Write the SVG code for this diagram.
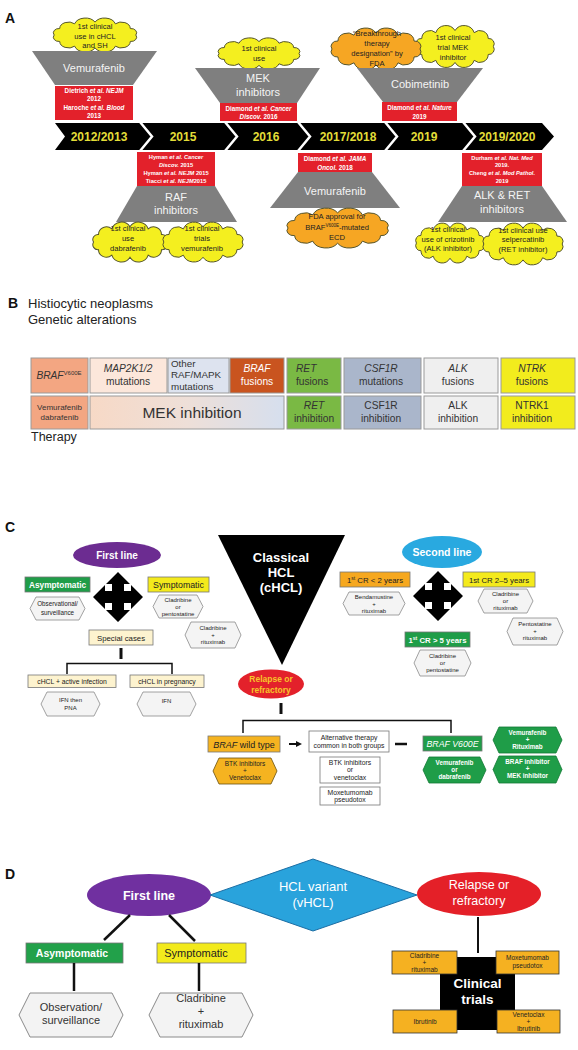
<svg xmlns="http://www.w3.org/2000/svg" xmlns:xlink="http://www.w3.org/1999/xlink" width="578" height="1050" viewBox="0 0 578 1050">
<style>
text{font-family:"Liberation Sans",Arial,Helvetica,sans-serif;}
.lbl{font-weight:bold;font-size:14px;fill:#111}
.yr{font-weight:bold;font-size:12px;fill:#e2dd38;text-anchor:middle}
.trap{fill:#7f7f7f}
.trt{fill:#f4f4f4;font-size:11px;text-anchor:middle}
.red{fill:#e3212b}
.ref{fill:#fff;font-size:6.3px;font-weight:bold;text-anchor:middle}
.ref2{fill:#fff;font-size:5.7px;font-weight:bold;text-anchor:middle}
.i{font-style:italic}
.cy{fill:#f4ef1f;stroke:#55552e;stroke-width:1}
.co{fill:#f6a623;stroke:#55552e;stroke-width:1}
.ct{font-size:7.6px;fill:#222;text-anchor:middle}
.cell{stroke:#9a9a9a;stroke-width:1}
.bt{font-size:10.2px;fill:#333;text-anchor:middle}
.hex{fill:#f4f4f4;stroke:#8a8a8a;stroke-width:0.8}
.ht{font-size:6px;fill:#222;text-anchor:middle}
.bx{stroke:#777;stroke-width:0.8}
.con{stroke:#111;fill:none}
.gh{fill:#1f9d48;stroke:#137a35;stroke-width:0.8}
.gt{fill:#fff;font-size:6.3px;font-weight:bold;text-anchor:middle}
.oh{fill:#f5b320;stroke:#6a5010;stroke-width:0.8}
.dh{fill:#f3f3f3;stroke:#8a8a8a;stroke-width:1}
.dt{font-size:11px;fill:#333;text-anchor:middle}
.ob{fill:#f5b121;stroke:#333;stroke-width:0.8}
.obt{font-size:6.5px;fill:#222;text-anchor:middle}
</style>
<defs>
<symbol id="cloud" viewBox="0 0 100 50" preserveAspectRatio="none" overflow="visible">
<path vector-effect="non-scaling-stroke" d="M90,25 A5.6,5.6 0 0 1 84.6,33.5 A8.7,8.7 0 0 1 70,39.7 A11.1,11.1 0 0 1 50,42 A11.1,11.1 0 0 1 30,39.7 A8.7,8.7 0 0 1 15.4,33.5 A5.6,5.6 0 0 1 10,25 A5.6,5.6 0 0 1 15.4,16.5 A8.7,8.7 0 0 1 30,10.3 A11.1,11.1 0 0 1 50,8 A11.1,11.1 0 0 1 70,10.3 A8.7,8.7 0 0 1 84.6,16.5 A5.6,5.6 0 0 1 90,25Z"/>
</symbol>
<path id="cross" d="M0,-25 L12,-13 L6,-13 L6,-6 L13,-6 L13,-12 L25,0 L13,12 L13,6 L6,6 L6,13 L12,13 L0,25 L-12,13 L-6,13 L-6,6 L-13,6 L-13,12 L-25,0 L-13,-12 L-13,-6 L-6,-6 L-6,-13 L-12,-13 Z" fill="#000"/>
<linearGradient id="mekg" x1="0" y1="0" x2="1" y2="0">
<stop offset="0" stop-color="#f7d9c6"/>
<stop offset="0.5" stop-color="#eedfd8"/>
<stop offset="1" stop-color="#d6dfee"/>
</linearGradient>
</defs>

<!-- ===== Panel A ===== -->
<text class="lbl" x="5" y="23">A</text>

<g id="timeline">
<polygon points="55,123 542,123 554,136.5 542,150 55,150 65,136.5" fill="#000"/>
<polyline points="140,122 152,136.5 140,151" fill="none" stroke="#fff" stroke-width="2.5"/>
<polyline points="225,122 237,136.5 225,151" fill="none" stroke="#fff" stroke-width="2.5"/>
<polyline points="298,122 310,136.5 298,151" fill="none" stroke="#fff" stroke-width="2.5"/>
<polyline points="385,122 397,136.5 385,151" fill="none" stroke="#fff" stroke-width="2.5"/>
<polyline points="463,122 475,136.5 463,151" fill="none" stroke="#fff" stroke-width="2.5"/>
<text class="yr" x="99" y="140.5">2012/2013</text>
<text class="yr" x="183" y="140.5">2015</text>
<text class="yr" x="266" y="140.5">2016</text>
<text class="yr" x="348" y="140.5">2017/2018</text>
<text class="yr" x="424" y="140.5">2019</text>
<text class="yr" x="507" y="140.5">2019/2020</text>
</g>

<g id="a-vem2012">
<use href="#cloud" xlink:href="#cloud" x="44" y="16" width="102" height="38" class="cy"/>
<text class="ct" x="95" y="29">1st clinical</text>
<text class="ct" x="95" y="38.5">use in cHCL</text>
<text class="ct" x="95" y="48">and SH</text>
<polygon class="trap" points="32,51 157,51 133,85 55,85"/>
<text class="trt" x="94" y="72">Vemurafenib</text>
<rect class="red" x="55" y="86" width="78" height="34"/>
<text class="ref" x="94" y="93"><tspan>Dietrich </tspan><tspan class="i">et al. NEJM</tspan></text>
<text class="ref" x="94" y="101">2012</text>
<text class="ref" x="94" y="109.5"><tspan>Haroche </tspan><tspan class="i">et al. Blood</tspan></text>
<text class="ref" x="94" y="117.5">2013</text>
</g>

<g id="a-mek2016">
<use href="#cloud" xlink:href="#cloud" x="209" y="36" width="100" height="35" class="cy"/>
<text class="ct" x="259" y="51">1st clinical</text>
<text class="ct" x="259" y="61">use</text>
<polygon class="trap" points="195,68 320,68 297,103 220,103"/>
<text class="trt" x="258" y="82">MEK</text>
<text class="trt" x="258" y="96">inhibitors</text>
<rect class="red" x="220" y="103" width="77" height="18"/>
<text class="ref" x="258.5" y="110.5"><tspan>Diamond </tspan><tspan class="i">et al. Cancer</tspan></text>
<text class="ref" x="258.5" y="118.5"><tspan class="i">Discov.</tspan><tspan> 2016</tspan></text>
</g>

<g id="a-cobi2019">
<use href="#cloud" xlink:href="#cloud" x="407" y="23" width="96" height="47" class="cy"/>
<text class="ct" x="453" y="40">1st clinical</text>
<text class="ct" x="453" y="50">trial MEK</text>
<text class="ct" x="453" y="60">inhibitor</text>
<use href="#cloud" xlink:href="#cloud" x="321" y="25.5" width="110" height="47" class="co"/>
<text class="ct" x="377" y="36">“Breakthrough</text>
<text class="ct" x="377" y="46">therapy</text>
<text class="ct" x="377" y="56">designation” by</text>
<text class="ct" x="377" y="66">FDA</text>
<polygon class="trap" points="357,68 483,68 457,102 383,102"/>
<text class="trt" x="420" y="88">Cobimetinib</text>
<rect class="red" x="382" y="102" width="75" height="19"/>
<text class="ref" x="419.5" y="110"><tspan>Diamond </tspan><tspan class="i">et al. Nature</tspan></text>
<text class="ref" x="419.5" y="118.5">2019</text>
</g>

<g id="a-raf2015">
<rect class="red" x="137" y="152" width="78" height="34"/>
<text class="ref2" x="176" y="158.5"><tspan>Hyman </tspan><tspan class="i">et al. Cancer</tspan></text>
<text class="ref2" x="176" y="166.5"><tspan class="i">Discov.</tspan><tspan> 2015</tspan></text>
<text class="ref2" x="176" y="174.5"><tspan>Hyman </tspan><tspan class="i">et al. NEJM</tspan><tspan> 2015</tspan></text>
<text class="ref2" x="176" y="182.5"><tspan>Tiacci </tspan><tspan class="i">et al. NEJM</tspan><tspan>2015</tspan></text>
<polygon class="trap" points="137,186 215,186 237,222 116,222"/>
<text class="trt" x="176" y="201">RAF</text>
<text class="trt" x="176" y="214">inhibitors</text>
<use href="#cloud" xlink:href="#cloud" x="84.5" y="219.7" width="91" height="44.7" class="cy"/>
<text class="ct" x="128" y="231">1st clinical</text>
<text class="ct" x="128" y="241">use</text>
<text class="ct" x="128" y="251">dabrafenib</text>
<use href="#cloud" xlink:href="#cloud" x="154" y="219.7" width="98" height="44.7" class="cy"/>
<text class="ct" x="202" y="231">1st clinical</text>
<text class="ct" x="202" y="241">trials</text>
<text class="ct" x="202" y="251">vemurafenib</text>
</g>

<g id="a-vem2018">
<rect class="red" x="298" y="153" width="74" height="19"/>
<text class="ref" x="335" y="161"><tspan>Diamond </tspan><tspan class="i">et al. JAMA</tspan></text>
<text class="ref" x="335" y="169.5"><tspan class="i">Oncol.</tspan><tspan> 2018</tspan></text>
<polygon class="trap" points="298,172 372,172 400,208 270,208"/>
<text class="trt" x="335" y="195">Vemurafenib</text>
<use href="#cloud" xlink:href="#cloud" x="275.6" y="205.7" width="124" height="44.7" class="co"/>
<text class="ct" x="337" y="219">FDA approval for</text>
<text class="ct" x="337" y="229.5">BRAF<tspan font-size="4.5" dy="-3">V600E</tspan><tspan dy="3">-mutated</tspan></text>
<text class="ct" x="337" y="240">ECD</text>
</g>

<g id="a-alkret2020">
<rect class="red" x="462" y="153" width="80" height="33"/>
<text class="ref2" x="502" y="159.5"><tspan>Durham </tspan><tspan class="i">et al. Nat. Med</tspan></text>
<text class="ref2" x="502" y="167">2019.</text>
<text class="ref2" x="502" y="175"><tspan>Cheng </tspan><tspan class="i">et al. Mod Pathol.</tspan></text>
<text class="ref2" x="502" y="183">2019</text>
<polygon class="trap" points="462,186 542,186 567,222 438,222"/>
<text class="trt" x="502" y="199">ALK &amp; RET</text>
<text class="trt" x="502" y="212.5">inhibitors</text>
<use href="#cloud" xlink:href="#cloud" x="408" y="220.7" width="84" height="44.7" class="cy"/>
<text class="ct" x="448" y="232">1st clinical</text>
<text class="ct" x="448" y="241.5">use of crizotinib</text>
<text class="ct" x="448" y="251">(ALK inhibitor)</text>
<use href="#cloud" xlink:href="#cloud" x="474" y="220.6" width="98" height="46.8" class="cy"/>
<text class="ct" x="523" y="232.5">1st clinical use</text>
<text class="ct" x="523" y="242">selpercatinib</text>
<text class="ct" x="523" y="251.5">(RET inhibitor)</text>
</g>

<!-- ===== Panel B ===== -->
<text class="lbl" x="8" y="308">B</text>
<text x="28" y="308" font-size="13" fill="#222">Histiocytic neoplasms</text>
<text x="28" y="324" font-size="13" fill="#222">Genetic alterations</text>

<g id="b-braf">
<rect class="cell" x="31" y="358" width="57" height="35" fill="#f3a682"/>
<text class="bt" x="59" y="379"><tspan class="i">BRAF</tspan><tspan font-size="6" dy="-4">V600E</tspan></text>
<rect class="cell" x="31" y="396" width="57" height="33" fill="#f3a682"/>
<text class="bt" x="59.5" y="410" style="font-size:8px">Vemurafenib</text>
<text class="bt" x="59.5" y="420" style="font-size:8px">dabrafenib</text>
</g>
<g id="b-map2k">
<rect class="cell" x="90" y="358" width="77" height="35" fill="#fce7db"/>
<text class="bt" x="128" y="372" style="font-style:italic">MAP2K1/2</text>
<text class="bt" x="128" y="385">mutations</text>
</g>
<g id="b-other">
<rect class="cell" x="168" y="358" width="61" height="35" fill="#dde3ef"/>
<text class="bt" x="171" y="367" style="text-anchor:start;font-size:9.8px">Other</text>
<text class="bt" x="171" y="378" style="text-anchor:start;font-size:9.8px">RAF/MAPK</text>
<text class="bt" x="171" y="389.5" style="text-anchor:start;font-size:9.8px">mutations</text>
</g>
<g id="b-braffus">
<rect class="cell" x="230" y="358" width="54" height="35" fill="#c9541f"/>
<text class="bt" x="257" y="372" style="fill:#fff;font-style:italic">BRAF</text>
<text class="bt" x="257" y="385" style="fill:#fff">fusions</text>
</g>
<g id="b-mek">
<rect class="cell" x="90" y="396" width="194" height="33" fill="url(#mekg)"/>
<text class="bt" x="192" y="418" style="font-size:15.5px">MEK inhibition</text>
</g>
<g id="b-ret">
<rect class="cell" x="287" y="358" width="54" height="35" fill="#7ab944"/>
<text class="bt" x="296" y="372" style="text-anchor:start;font-style:italic">RET</text>
<text class="bt" x="296" y="385" style="text-anchor:start">fusions</text>
<rect class="cell" x="287" y="396" width="54" height="33" fill="#7ab944"/>
<text class="bt" x="314" y="409" style="font-style:italic">RET</text>
<text class="bt" x="314" y="422">inhibition</text>
</g>
<g id="b-csf1r">
<rect class="cell" x="344" y="358" width="77" height="35" fill="#aab6cb"/>
<text class="bt" x="381" y="372" style="font-style:italic">CSF1R</text>
<text class="bt" x="381" y="385">mutations</text>
<rect class="cell" x="344" y="396" width="77" height="33" fill="#aab6cb"/>
<text class="bt" x="381" y="409">CSF1R</text>
<text class="bt" x="381" y="422">inhibition</text>
</g>
<g id="b-alk">
<rect class="cell" x="424" y="358" width="74" height="35" fill="#efefef"/>
<text class="bt" x="458" y="372" style="font-style:italic">ALK</text>
<text class="bt" x="458" y="385">fusions</text>
<rect class="cell" x="424" y="396" width="74" height="33" fill="#efefef"/>
<text class="bt" x="458" y="409">ALK</text>
<text class="bt" x="458" y="422">inhibition</text>
</g>
<g id="b-ntrk">
<rect class="cell" x="501" y="358" width="74" height="35" fill="#f2ec1d"/>
<text class="bt" x="532" y="372" style="font-style:italic">NTRK</text>
<text class="bt" x="532" y="385">fusions</text>
<rect class="cell" x="501" y="396" width="74" height="33" fill="#f2ec1d"/>
<text class="bt" x="532" y="409">NTRK1</text>
<text class="bt" x="532" y="422">inhibition</text>
</g>
<text x="31" y="441" font-size="12.5" fill="#222">Therapy</text>

<!-- ===== Panel C ===== -->
<text class="lbl" x="5" y="532">C</text>

<g id="c-chcl">
<polygon points="218,535 345,535 282,665" fill="#000"/>
<text x="281" y="562" font-size="13" font-weight="bold" fill="#fff" text-anchor="middle">Classical</text>
<text x="281" y="577" font-size="13" font-weight="bold" fill="#fff" text-anchor="middle">HCL</text>
<text x="281" y="592" font-size="13" font-weight="bold" fill="#fff" text-anchor="middle">(cHCL)</text>
</g>

<g id="c-firstline">
<ellipse cx="117" cy="555" rx="44" ry="13" fill="#6c2c91"/>
<text x="117" y="558.5" font-size="10" font-weight="bold" fill="#fff" text-anchor="middle">First line</text>
</g>
<g id="c-cross1"><use href="#cross" xlink:href="#cross" x="118" y="597"/></g>
<g id="c-asym">
<rect x="25" y="577" width="65" height="15" fill="#1f9d48" class="bx"/>
<text x="57.5" y="587.5" font-size="8.3" font-weight="bold" fill="#fff" text-anchor="middle">Asymptomatic</text>
</g>
<g id="c-obs">
<polygon class="hex" points="36,597 79,597 85,608.5 79,620 36,620 30,608.5"/>
<text class="ht" x="57.5" y="606" style="font-size:6.3px">Observational/</text>
<text class="ht" x="57.5" y="615" style="font-size:6.3px">surveillance</text>
</g>
<g id="c-sym">
<rect x="148" y="577" width="61" height="15" fill="#f4ea1c" class="bx"/>
<text x="178.5" y="587.5" font-size="8.8" fill="#222" text-anchor="middle">Symptomatic</text>
</g>
<g id="c-cladpento">
<polygon class="hex" points="159,595 197,595 203,606.5 197,618 159,618 153,606.5"/>
<text class="ht" x="178" y="601.5">Cladribine</text>
<text class="ht" x="178" y="608.5">or</text>
<text class="ht" x="178" y="615.5">pentostatine</text>
</g>
<g id="c-cladrit">
<polygon class="hex" points="191,622 235,622 241,635 235,648 191,648 185,635"/>
<text class="ht" x="213" y="630">Cladribine</text>
<text class="ht" x="213" y="637">+</text>
<text class="ht" x="213" y="644">rituximab</text>
</g>
<g id="c-special">
<rect x="89" y="630" width="64" height="15" fill="#fdf3cf" class="bx"/>
<text x="121" y="640.5" font-size="7.8" fill="#222" text-anchor="middle">Special cases</text>
</g>
<g id="c-infection">
<rect x="28" y="675" width="88" height="12.5" fill="#fdf3cf" class="bx"/>
<text x="72" y="684" font-size="6.8" fill="#222" text-anchor="middle">cHCL + active infection</text>
</g>
<g id="c-pregnancy">
<rect x="130" y="675" width="74" height="12.5" fill="#fdf3cf" class="bx"/>
<text x="167" y="684" font-size="6.8" fill="#222" text-anchor="middle">cHCL in pregnancy</text>
</g>
<g id="c-ifnpna">
<polygon class="hex" points="47,692 94,692 100,704 94,716 47,716 41,704"/>
<text class="ht" x="70.5" y="702">IFN then</text>
<text class="ht" x="70.5" y="710">PNA</text>
</g>
<g id="c-ifn">
<polygon class="hex" points="143,692 190,692 196,704 190,716 143,716 137,704"/>
<text class="ht" x="166.5" y="703">IFN</text>
</g>

<g id="c-secondline">
<ellipse cx="442" cy="552" rx="40" ry="16" fill="#29a9e0"/>
<text x="442" y="555.5" font-size="10.5" font-weight="bold" fill="#fff" text-anchor="middle">Second line</text>
</g>
<g id="c-cross2"><use href="#cross" xlink:href="#cross" x="438" y="596"/></g>
<g id="c-cr2">
<rect x="340" y="572" width="70" height="15" fill="#f6a81f" class="bx"/>
<text x="375" y="582.5" font-size="7.8" fill="#222" text-anchor="middle">1<tspan font-size="5" dy="-2.5">st</tspan><tspan dy="2.5"> CR &lt; 2 years</tspan></text>
</g>
<g id="c-benda">
<polygon class="hex" points="349,592 399,592 405,603.5 399,615 349,615 343,603.5"/>
<text class="ht" x="374" y="599">Bendamustine</text>
<text class="ht" x="374" y="606">+</text>
<text class="ht" x="374" y="613">rituximab</text>
</g>
<g id="c-cr25">
<rect x="463" y="572" width="72" height="15" fill="#f4ea1c" class="bx"/>
<text x="499" y="582.5" font-size="7.8" fill="#222" text-anchor="middle">1st CR 2–5 years</text>
</g>
<g id="c-cladrit2">
<polygon class="hex" points="484,589 527,589 533,601 527,613 484,613 478,601"/>
<text class="ht" x="505.5" y="596">Cladribine</text>
<text class="ht" x="505.5" y="603">or</text>
<text class="ht" x="505.5" y="610">rituximab</text>
</g>
<g id="c-pentorit">
<polygon class="hex" points="513,618 557,618 563,631.5 557,645 513,645 507,631.5"/>
<text class="ht" x="535" y="626">Pentostatine</text>
<text class="ht" x="535" y="633">+</text>
<text class="ht" x="535" y="640">rituximab</text>
</g>
<g id="c-cr5">
<rect x="405" y="632" width="65" height="15" fill="#1f9d48" class="bx"/>
<text x="437.5" y="642.5" font-size="7.8" font-weight="bold" fill="#fff" text-anchor="middle">1<tspan font-size="5" dy="-2.5">st</tspan><tspan dy="2.5"> CR &gt; 5 years</tspan></text>
</g>
<g id="c-cladpento2">
<polygon class="hex" points="420,650 465,650 471,663 465,676 420,676 414,663"/>
<text class="ht" x="442.5" y="658">Cladribine</text>
<text class="ht" x="442.5" y="665">or</text>
<text class="ht" x="442.5" y="672">pentostatine</text>
</g>

<g id="c-relapse">
<ellipse cx="271" cy="684" rx="33" ry="14.5" fill="#e3212b"/>
<text x="271" y="682" font-size="8.5" font-weight="bold" fill="#f7c42a" text-anchor="middle">Relapse or</text>
<text x="271" y="692.5" font-size="8.5" font-weight="bold" fill="#f7c42a" text-anchor="middle">refractory</text>
</g>
<g id="c-wild">
<rect x="208" y="736" width="72" height="16" fill="#f5b320" class="bx"/>
<text x="244" y="747.5" font-size="9" fill="#222" text-anchor="middle"><tspan font-style="italic">BRAF</tspan> wild type</text>
</g>
<g id="c-btkven">
<polygon class="oh" points="219,758 271,758 277,771 271,784 219,784 213,771"/>
<text class="ht" x="245" y="765.5" style="font-size:6.5px">BTK inhibitors</text>
<text class="ht" x="245" y="772.5" style="font-size:6.5px">+</text>
<text class="ht" x="245" y="780" style="font-size:6.5px">Venetoclax</text>
</g>
<g id="c-alt">
<rect x="309" y="731" width="80" height="21" fill="#fff" class="bx"/>
<text x="349" y="739.5" font-size="6.8" fill="#222" text-anchor="middle">Alternative therapy</text>
<text x="349" y="748" font-size="6.8" fill="#222" text-anchor="middle">common in both groups</text>
</g>
<g id="c-btkorven">
<rect x="320" y="757" width="60" height="26" fill="#fff" class="bx"/>
<text class="ht" x="350" y="765" style="font-size:6.8px">BTK inhibitors</text>
<text class="ht" x="350" y="772" style="font-size:6.8px">or</text>
<text class="ht" x="350" y="779.5" style="font-size:6.8px">venetoclax</text>
</g>
<g id="c-moxe">
<rect x="320" y="787" width="60" height="18" fill="#fff" class="bx"/>
<text class="ht" x="350" y="794.5" style="font-size:6.8px">Moxetumomab</text>
<text class="ht" x="350" y="802" style="font-size:6.8px">pseudotox</text>
</g>
<g id="c-v600e">
<rect x="423" y="736" width="59" height="15" fill="#1f9d48" class="bx"/>
<text x="452.5" y="746.5" font-size="8.8" fill="#fff" text-anchor="middle" font-style="italic">BRAF V600E</text>
</g>
<g id="c-vemrit">
<polygon class="gh" points="499,727 556,727 562,740 556,753 499,753 493,740"/>
<text class="gt" x="527.5" y="734.5">Vemurafenib</text>
<text class="gt" x="527.5" y="741.5">+</text>
<text class="gt" x="527.5" y="749">Rituximab</text>
</g>
<g id="c-vemdab">
<polygon class="gh" points="429,757 480,757 486,770 480,783 429,783 423,770"/>
<text class="gt" x="454.5" y="764.5">Vemurafenib</text>
<text class="gt" x="454.5" y="771.5">or</text>
<text class="gt" x="454.5" y="779">dabrafenib</text>
</g>
<g id="c-brafmek">
<polygon class="gh" points="499,756 556,756 562,769.5 556,783 499,783 493,769.5"/>
<text class="gt" x="527.5" y="763.5">BRAF inhibitor</text>
<text class="gt" x="527.5" y="770.5">+</text>
<text class="gt" x="527.5" y="778">MEK inhibitor</text>
</g>

<!-- ===== Panel D ===== -->
<text class="lbl" x="5" y="879">D</text>
<g id="d-firstline">
<ellipse cx="149" cy="895" rx="62" ry="21" fill="#7030a0"/>
<text x="149" y="899.5" font-size="12.5" font-weight="bold" fill="#fff" text-anchor="middle">First line</text>
</g>
<g id="d-vhcl">
<polygon points="210,895 313,859 417,895 313,931" fill="#29a3dc" stroke="#1c6ea4" stroke-width="1"/>
<text x="313" y="891" font-size="13" fill="#fff" text-anchor="middle">HCL variant</text>
<text x="313" y="907" font-size="13" fill="#fff" text-anchor="middle">(vHCL)</text>
</g>
<g id="d-relapse">
<ellipse cx="479" cy="894" rx="62" ry="22" fill="#e42028"/>
<text x="479" y="889" font-size="12.5" fill="#fff" text-anchor="middle">Relapse or</text>
<text x="479" y="905" font-size="12.5" fill="#fff" text-anchor="middle">refractory</text>
</g>
<g id="d-asym">
<rect x="26" y="943" width="97" height="20" fill="#22a14a" stroke="#777" stroke-width="0.8"/>
<text x="72" y="957" font-size="10.5" font-weight="bold" fill="#fff" text-anchor="middle">Asymptomatic</text>
</g>
<g id="d-sym">
<rect x="157" y="943" width="89" height="20" fill="#f2ea1c" stroke="#777" stroke-width="0.8"/>
<text x="196" y="957" font-size="11" fill="#222" text-anchor="middle">Symptomatic</text>
</g>
<g id="d-obs">
<polygon class="dh" points="30,993 112,993 123,1015 112,1037 30,1037 19,1015"/>
<text class="dt" x="71" y="1011">Observation/</text>
<text class="dt" x="71" y="1024">surveillance</text>
</g>
<g id="d-cladrit">
<polygon class="dh" points="160,993 242,993 253,1015 242,1037 160,1037 149,1015"/>
<text class="dt" x="201" y="1002">Cladribine</text>
<text class="dt" x="201" y="1015">+</text>
<text class="dt" x="201" y="1028">rituximab</text>
</g>
<g id="d-trials">
<rect x="440" y="957" width="75" height="73" fill="#000"/>
<text x="477.5" y="988" font-size="13.5" font-weight="bold" fill="#fff" text-anchor="middle">Clinical</text>
<text x="477.5" y="1004" font-size="13.5" font-weight="bold" fill="#fff" text-anchor="middle">trials</text>
</g>
<g id="d-t1">
<rect class="ob" x="392" y="951" width="65" height="23"/>
<text class="obt" x="424.5" y="958">Cladribine</text>
<text class="obt" x="424.5" y="965">+</text>
<text class="obt" x="424.5" y="972">rituximab</text>
</g>
<g id="d-t2">
<rect class="ob" x="496" y="951" width="63" height="23"/>
<text class="obt" x="527.5" y="960">Moxetumomab</text>
<text class="obt" x="527.5" y="967.5">pseudotox</text>
</g>
<g id="d-t3">
<rect class="ob" x="393" y="1010" width="64" height="23"/>
<text class="obt" x="425" y="1023.5">Ibrutinib</text>
</g>
<g id="d-t4">
<rect class="ob" x="497" y="1010" width="63" height="23"/>
<text class="obt" x="528.5" y="1017">Venetoclax</text>
<text class="obt" x="528.5" y="1024">+</text>
<text class="obt" x="528.5" y="1031">Ibrutinib</text>
</g>

<!-- connectors -->
<g id="connectors">
<line class="con" x1="121" y1="648" x2="121" y2="659" stroke-width="3"/>
<path class="con" d="M67,674 V663.5 H172 V674" stroke-width="1.5"/>
<line class="con" x1="281" y1="703" x2="281" y2="714" stroke-width="3"/>
<path class="con" d="M243,733 V720.5 H451 V733" stroke-width="1.5"/>
<line class="con" x1="289" y1="744" x2="297" y2="744" stroke-width="2"/>
<polygon points="296,741 302,744 296,747" fill="#111"/>
<line class="con" x1="395" y1="744" x2="407" y2="744" stroke-width="2.5"/>
<line class="con" x1="130" y1="915" x2="104" y2="940" stroke-width="2.5"/>
<line class="con" x1="169" y1="915" x2="195" y2="941" stroke-width="2.5"/>
<line class="con" x1="74" y1="963" x2="74" y2="991" stroke-width="2.5"/>
<line class="con" x1="199" y1="963" x2="199" y2="991" stroke-width="2.5"/>
<line class="con" x1="478" y1="917" x2="478" y2="953" stroke-width="2"/>
</g>
</svg>
